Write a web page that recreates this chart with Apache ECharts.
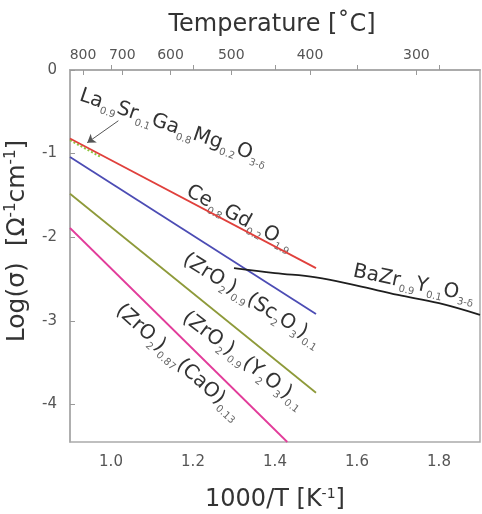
<!DOCTYPE html>
<html><head><meta charset="utf-8">
<script src="https://cdn.jsdelivr.net/npm/echarts@6/dist/echarts.min.js"></script>
<style>html,body{margin:0;padding:0;background:#fff}#c{width:482px;height:514px}</style>
</head><body><div id="c"></div>
<script>
// ---- data ----
const xTicks = [1.0, 1.2, 1.4, 1.6, 1.8];
const yTicks = [0, -1, -2, -3, -4];
const tempTicks = [800, 700, 600, 500, 400, 300];

const lsgm = [[0.90, -0.84], [0.975, -1.04]];
const cgo  = [[0.90, -0.82], [1.50, -2.37]];
const scsz = [[0.90, -1.04], [1.50, -2.92]];
const ysz  = [[0.90, -1.48], [1.50, -3.86]];
const csz  = [[0.90, -1.89], [1.43, -4.45]];
const bzy  = [[1.30, -2.37], [1.40, -2.43], [1.50, -2.48], [1.60, -2.58], [1.70, -2.69], [1.80, -2.79], [1.90, -2.93]];
const arrowPts = [[1.018, -0.607], [0.942, -0.87]];

const labelTexts = [
  '{m|La}{s|0.9}{m|Sr}{s|0.1}{m|Ga}{s|0.8}{m|Mg}{s|0.2}{m|O}{s|3-δ}',
  '{m|Ce}{s|0.8}{m|Gd}{s|0.2}{m|O}{s|1.9}',
  '{m|(ZrO}{s|2}{m|)}{s|0.9}{m|(Sc}{s|2}{m|O}{s|3}{m|)}{s|0.1}',
  '{m|BaZr}{s|0.9}{m|Y}{s|0.1}{m|O}{s|3-δ}',
  '{m|(ZrO}{s|2}{m|)}{s|0.9}{m|(Y}{s|2}{m|O}{s|3}{m|)}{s|0.1}',
  '{m|(ZrO}{s|2}{m|)}{s|0.87}{m|(CaO)}{s|0.13}'
];
const labelAnchors = [[0.925, -0.30], [1.187, -1.44], [1.179, -2.25], [1.591, -2.405], [1.179, -2.94], [1.018, -2.845]];
const labelAngles = [19, 28, 32, 12, 37, 42];

// ---- chart ----
const FONT = 'DejaVu Sans';
const tempPos = tempTicks.map(t => 1000 / (t + 273.15));
const chart = echarts.init(document.getElementById('c'), null, {renderer: 'canvas'});
const axisLineStyle = {color: '#aaa', width: 1.5};
const mkLine = (data, color, extra) => Object.assign({
  type: 'line', data: data, showSymbol: false, symbol: 'none', silent: true,
  lineStyle: {color: color, width: 1.8}, itemStyle: {color: color}, animation: false
}, extra || {});

chart.setOption({
  animation: false,
  grid: {left: 70, right: 2, top: 70, bottom: 72, show: true, borderColor: '#aaa', borderWidth: 1.5, outerBoundsMode: 'none'},
  xAxis: [{
    type: 'value', position: 'bottom', min: 0.9, max: 1.9,
    axisLine: {show: true, lineStyle: axisLineStyle},
    axisTick: {show: true, inside: true, length: 5, customValues: xTicks, lineStyle: {color: '#999'}},
    axisLabel: {customValues: xTicks, formatter: v => v.toFixed(1), color: '#555', fontSize: 15, fontFamily: FONT, margin: 13},
    splitLine: {show: false}
  }, {
    type: 'value', position: 'top', min: 0.9, max: 1.9,
    axisLine: {show: true, lineStyle: axisLineStyle},
    axisTick: {show: true, inside: true, length: 5, customValues: tempPos, lineStyle: {color: '#999'}},
    axisLabel: {customValues: tempPos, color: '#555', fontSize: 14, fontFamily: FONT, margin: 8,
      formatter: v => { let bi = 0; tempPos.forEach((p, i) => { if (Math.abs(p - v) < Math.abs(tempPos[bi] - v)) bi = i; }); return String(tempTicks[bi]); }},
    splitLine: {show: false}
  }],
  yAxis: [{
    type: 'value', min: -4.45, max: 0,
    axisLine: {show: true, lineStyle: axisLineStyle},
    axisTick: {show: true, inside: true, length: 5, customValues: yTicks, lineStyle: {color: '#999'}},
    axisLabel: {customValues: yTicks, formatter: v => String(Math.round(v)), color: '#555', fontSize: 15, fontFamily: FONT, margin: 13},
    splitLine: {show: false}
  }],
  series: [
    mkLine(lsgm, '#8cc43c', {lineStyle: {color: '#8cc43c', width: 2, type: [2, 2]},
      markLine: {silent: true, symbol: ['none', 'arrow'], symbolSize: 8, label: {show: false},
        lineStyle: {color: '#555', width: 1, type: 'solid'},
        data: [[{coord: arrowPts[0]}, {coord: arrowPts[1]}]]}}),
    mkLine(cgo, '#e0403c'),
    mkLine(scsz, '#4c4cb4'),
    mkLine(ysz, '#8e9a3a'),
    mkLine(csz, '#e23c9a'),
    mkLine(bzy, '#1e1e1e', {smooth: 0.4})
  ],
  graphic: [
    {type: 'text', x: 272, y: 25, style: {text: 'Temperature [˚C]', font: '24px "DejaVu Sans"', fill: '#333', align: 'center', verticalAlign: 'middle'}},
    {type: 'text', x: 275, y: 500, style: {text: '1000/T [K{sup|-1}]', font: '24px "DejaVu Sans"', fill: '#333', align: 'center', verticalAlign: 'middle',
      rich: {sup: {fontSize: 14, fontFamily: FONT, fill: '#333', verticalAlign: 'top', lineHeight: 26}}}},
    {type: 'text', x: 17, y: 241, rotation: Math.PI / 2, style: {text: 'Log(σ)  [Ω{sup|-1}cm{sup|-1}]', font: '25px "DejaVu Sans"', fill: '#333', align: 'center', verticalAlign: 'middle',
      rich: {sup: {fontSize: 15, fontFamily: FONT, fill: '#333', verticalAlign: 'top', lineHeight: 27}}}}
  ]
});

const richStyle = {
  m: {fontSize: 20, fontFamily: FONT, fill: '#333', lineHeight: 26},
  s: {fontSize: 10, fontFamily: FONT, fill: '#666', lineHeight: 10, verticalAlign: 'bottom'}
};
const labelGraphics = labelTexts.map((t, i) => {
  const p = chart.convertToPixel({xAxisIndex: 0, yAxisIndex: 0}, labelAnchors[i]);
  return {type: 'text', id: 'lab' + i, x: p[0], y: p[1], rotation: -labelAngles[i] * Math.PI / 180, silent: true,
    style: {text: t, rich: richStyle, align: 'left', verticalAlign: 'middle', fill: '#333'}};
});
chart.setOption({graphic: labelGraphics});
</script>
</body></html>
